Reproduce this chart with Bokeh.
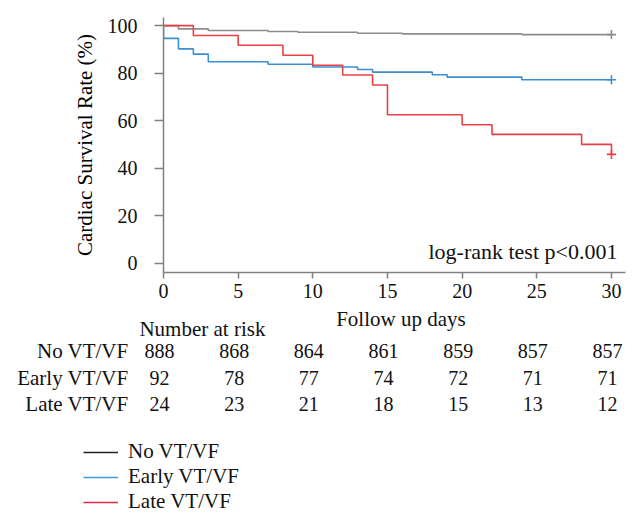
from bokeh.plotting import figure
from bokeh.layouts import column
from bokeh.models import Range1d, FixedTicker, Label, ColumnDataSource
from bokeh.embed import file_html
from bokeh.resources import INLINE
from bokeh.core.properties import value

# ---------------- data ----------------
groups = ["No VT/VF", "Early VT/VF", "Late VT/VF"]
line_colors = ["#8c8c8c", "#3d8fd1", "#ea3f47"]
legend_colors = ["#222222", "#3d9ad8", "#e2294a"]

no_days = [0, 1, 3, 7, 9, 13, 16, 24, 30]
no_surv = [100, 98.6, 97.9, 97.5, 97.2, 96.8, 96.5, 96.2, 96.2]

early_days = [0, 0, 1, 2, 3, 7, 10, 13, 14, 18, 19, 24, 30]
early_surv = [100, 94.6, 90.2, 88.0, 84.8, 83.7, 82.6, 81.5, 80.4, 79.3, 78.3, 77.2, 77.2]

late_days = [0, 2, 5, 8, 10, 12, 14, 15, 20, 22, 28, 30]
late_surv = [100, 95.8, 91.7, 87.5, 83.3, 79.2, 75.0, 62.5, 58.3, 54.2, 50.0, 45.8]

risk_days = [0, 5, 10, 15, 20, 25, 30]
risk_no = [888, 868, 864, 861, 859, 857, 857]
risk_early = [92, 78, 77, 74, 72, 71, 71]
risk_late = [24, 23, 21, 18, 15, 13, 12]

x_ticks = [0, 5, 10, 15, 20, 25, 30]
y_ticks = [0, 20, 40, 60, 80, 100]

x_title = "Follow up days"
y_title = "Cardiac Survival Rate (%)"
test_text = "log-rank test p<0.001"
risk_title = "Number at risk"

FONT = "Liberation Serif"
TXT = "#111111"
AX = "#808080"

# ---------------- main plot ----------------
W = 640
X_END = 30.94
BL, BR = 163, 15
p = figure(width=W, height=306, x_range=Range1d(0, X_END), y_range=Range1d(-3.9, 103.4),
           output_backend="svg", toolbar_location=None,
           min_border_left=BL, min_border_right=BR, min_border_top=17, min_border_bottom=34)
p.frame_align = False
p.outline_line_color = None
p.grid.visible = False

series = [(no_days, no_surv), (early_days, early_surv), (late_days, late_surv)]
for (d, s), c in zip(series, line_colors):
    p.step(d, s, mode="after", line_color=c, line_width=1.6)
    p.scatter([d[-1]], [s[-1]], marker="cross", size=9, line_color=c, line_width=1.6)

p.xaxis.ticker = FixedTicker(ticks=x_ticks)
p.yaxis.ticker = FixedTicker(ticks=y_ticks)
for ax in (p.xaxis, p.yaxis):
    ax.axis_line_color = AX
    ax.axis_line_width = 1.5
    ax.major_tick_line_color = AX
    ax.major_tick_line_width = 1.5
    ax.minor_tick_line_color = None
    ax.major_tick_in = 0
    ax.major_label_text_font = FONT
    ax.major_label_text_font_size = "20px"
    ax.major_label_text_color = TXT
p.xaxis.major_tick_out = 6
p.xaxis.major_label_standoff = 5
p.yaxis.major_tick_out = 9
p.yaxis.major_label_standoff = 17
p.yaxis.axis_label = y_title
p.yaxis.axis_label_text_font = FONT
p.yaxis.axis_label_text_font_size = "21px"
p.yaxis.axis_label_text_font_style = "normal"
p.yaxis.axis_label_text_color = "#000000"
p.yaxis.axis_label_standoff = 8

p.add_layout(Label(x=30.4, y=5.0, text=test_text, text_align="right", text_baseline="middle",
                   text_font=FONT, text_font_size="22px", text_color=TXT))

# ---------------- risk table + legend ----------------
H2 = 218
k = (W - BL - BR) / X_END
p2 = figure(width=W, height=H2, x_range=Range1d(-BL / k, X_END + BR / k), y_range=Range1d(H2, 0),
            x_axis_type=None, y_axis_type=None, output_backend="svg", toolbar_location=None,
            min_border=0)
p2.frame_align = False
p2.outline_line_color = None
p2.grid.visible = False

row_y = [44.3, 71.3, 97.3]
xs, ys, ts = [], [], []
for yy, counts in zip(row_y, [risk_no, risk_early, risk_late]):
    for dd, n in zip(risk_days, counts):
        xs.append(dd)
        ys.append(yy)
        ts.append(str(n))
p2.text(x="x", y="y", text="text", source=ColumnDataSource(dict(x=xs, y=ys, text=ts)),
        text_font=value(FONT), text_font_size="20px", text_color=TXT,
        text_align="center", text_baseline="middle", x_offset=-4)

p2.text(x=[-2.34] * 3, y=row_y, text=groups, text_font=value(FONT), text_font_size="21px",
        text_color=TXT, text_align="right", text_baseline="middle")
p2.text(x=[-1.61], y=[22], text=[risk_title], text_font=value(FONT), text_font_size="21px",
        text_color=TXT, text_align="left", text_baseline="middle")
p2.text(x=[15.9], y=[12.5], text=[x_title], text_font=value(FONT), text_font_size="21px",
        text_color=TXT, text_align="center", text_baseline="middle")

nan = float("nan")
for g, c in zip(groups, legend_colors):
    p2.line(x=[nan], y=[nan], line_color=c, line_width=1.6, legend_label=g)
lg = p2.legend[0]
lg.location = (83, 10)
lg.padding = 0
lg.margin = 0
lg.spacing = 0
lg.glyph_width = 35
lg.glyph_height = 20
lg.label_height = 20
lg.label_standoff = 10
lg.label_text_font = FONT
lg.label_text_font_size = "21px"
lg.label_text_color = TXT
lg.border_line_color = None
lg.background_fill_alpha = 0

layout = column(p, p2)
open("out.html", "w").write(file_html(layout, INLINE))
